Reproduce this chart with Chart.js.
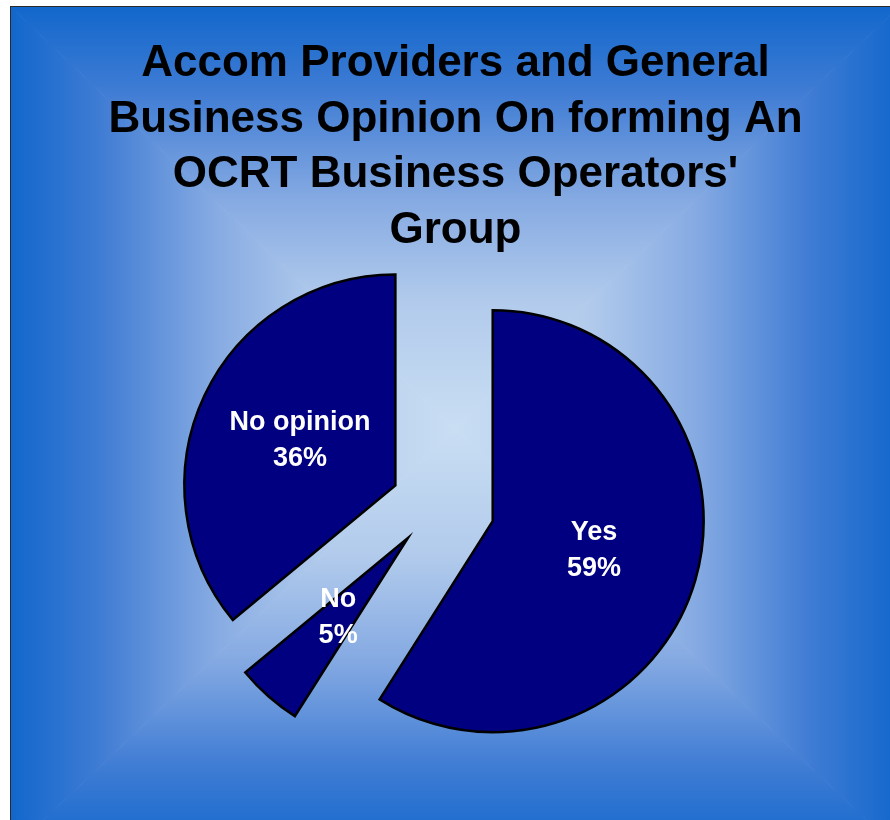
<!DOCTYPE html>
<html>
<head>
<meta charset="utf-8">
<title>OCRT Business Operators' Group</title>
<script src="https://cdn.jsdelivr.net/npm/chart.js@4.4.1/dist/chart.umd.min.js"></script>
<style>
    html, body {
        margin: 0;
        padding: 0;
        background: #ffffff;
        overflow: hidden;
    }
    #frame {
        position: absolute;
        left: 10px;
        top: 6px;
        width: 888px;
        height: 844px;
        border: 1px solid #2b2b2b;
    }
    #frame canvas {
        display: block;
    }
</style>
</head>
<body>
<div id="frame">
    <canvas id="opinion-chart" width="888" height="844"></canvas>
</div>
<script>
const titleLines = [
    'Accom Providers and General',
    'Business Opinion On forming An',
    "OCRT Business Operators'",
    'Group'
];
const answers = ['Yes', 'No', 'No opinion'];
const answerShares = [59, 5, 36];

// how far each slice is pulled out from the centre, in px
const explodeBy = [58, 44, 46];

const FONT = "'Liberation Sans', Arial, Helvetica, sans-serif";

// rectangular "from centre" fill: four triangles, each with its own linear ramp
const frameBackground = {
    id: 'frameBackground',
    beforeDraw(chart) {
        const ctx = chart.ctx;
        const w = chart.width;
        const h = chart.height;
        const cx = w / 2;
        const cy = h / 2;
        const stops = [
            [0, '#c9def3'],
            [0.3, '#b2cbec'],
            [0.55, '#84a9e2'],
            [0.8, '#3f7cd4'],
            [1, '#1267cc']
        ];
        const sides = [
            [[0, 0], [w, 0], [cx, 0]],
            [[w, 0], [w, h], [w, cy]],
            [[w, h], [0, h], [cx, h]],
            [[0, h], [0, 0], [0, cy]]
        ];
        ctx.save();
        sides.forEach(([a, b, edge]) => {
            const grad = ctx.createLinearGradient(cx, cy, edge[0], edge[1]);
            stops.forEach(([t, c]) => grad.addColorStop(t, c));
            ctx.beginPath();
            ctx.moveTo(cx, cy);
            ctx.lineTo(a[0], a[1]);
            ctx.lineTo(b[0], b[1]);
            ctx.closePath();
            ctx.fillStyle = grad;
            ctx.fill();
            // thin stroke in the same fill hides hairline gaps on the diagonals
            ctx.strokeStyle = grad;
            ctx.lineWidth = 1;
            ctx.stroke();
        });
        ctx.restore();
    },
    afterDraw(chart) {
        const ctx = chart.ctx;
        ctx.save();
        ctx.fillStyle = '#000000';
        ctx.font = `bold 44px ${FONT}`;
        ctx.textAlign = 'center';
        ctx.textBaseline = 'alphabetic';
        titleLines.forEach((line, i) => {
            ctx.fillText(line, chart.width / 2 + 0.5, 69 + i * 55.7);
        });
        ctx.restore();
    }
};

function sliceShift(arc, i) {
    const mid = (arc.startAngle + arc.endAngle) / 2;
    return {
        dx: Math.cos(mid) * explodeBy[i],
        dy: Math.sin(mid) * explodeBy[i]
    };
}

// draws each arc pulled out along its middle angle
const explodedSlices = {
    id: 'explodedSlices',
    beforeDatasetDraw(chart, args) {
        const ctx = chart.ctx;
        args.meta.data.forEach((arc, i) => {
            const {dx, dy} = sliceShift(arc, i);
            ctx.save();
            ctx.translate(dx, dy);
            arc.draw(ctx);
            ctx.restore();
        });
        return false;
    },
    afterDatasetsDraw(chart) {
        const ctx = chart.ctx;
        const meta = chart.getDatasetMeta(0);
        const total = answerShares.reduce((a, b) => a + b, 0);
        ctx.save();
        ctx.fillStyle = '#ffffff';
        ctx.font = `bold 27px ${FONT}`;
        ctx.textAlign = 'center';
        ctx.textBaseline = 'middle';
        meta.data.forEach((arc, i) => {
            const pos = arc.tooltipPosition();
            const {dx, dy} = sliceShift(arc, i);
            const x = pos.x + dx;
            const y = pos.y + dy;
            const pct = Math.round(answerShares[i] / total * 100);
            ctx.fillText(answers[i], x, y - 18);
            ctx.fillText(`${pct}%`, x, y + 18);
        });
        ctx.restore();
    }
};

function drawChart() {
    const ctx = document.getElementById('opinion-chart').getContext('2d');
    new Chart(ctx, {
        type: 'pie',
        data: {
            labels: answers,
            datasets: [{
                data: answerShares,
                backgroundColor: '#000080',
                borderColor: '#000000',
                borderWidth: 2.5,
                borderJoinStyle: 'miter'
            }]
        },
        options: {
            responsive: false,
            animation: false,
            events: [],
            radius: 211,
            layout: {
                padding: {left: 0, right: 36, top: 262, bottom: 110}
            },
            plugins: {
                legend: {display: false},
                tooltip: {enabled: false},
                title: {display: false}
            }
        },
        plugins: [frameBackground, explodedSlices]
    });
}

document.addEventListener('DOMContentLoaded', drawChart);
</script>
</body>
</html>
